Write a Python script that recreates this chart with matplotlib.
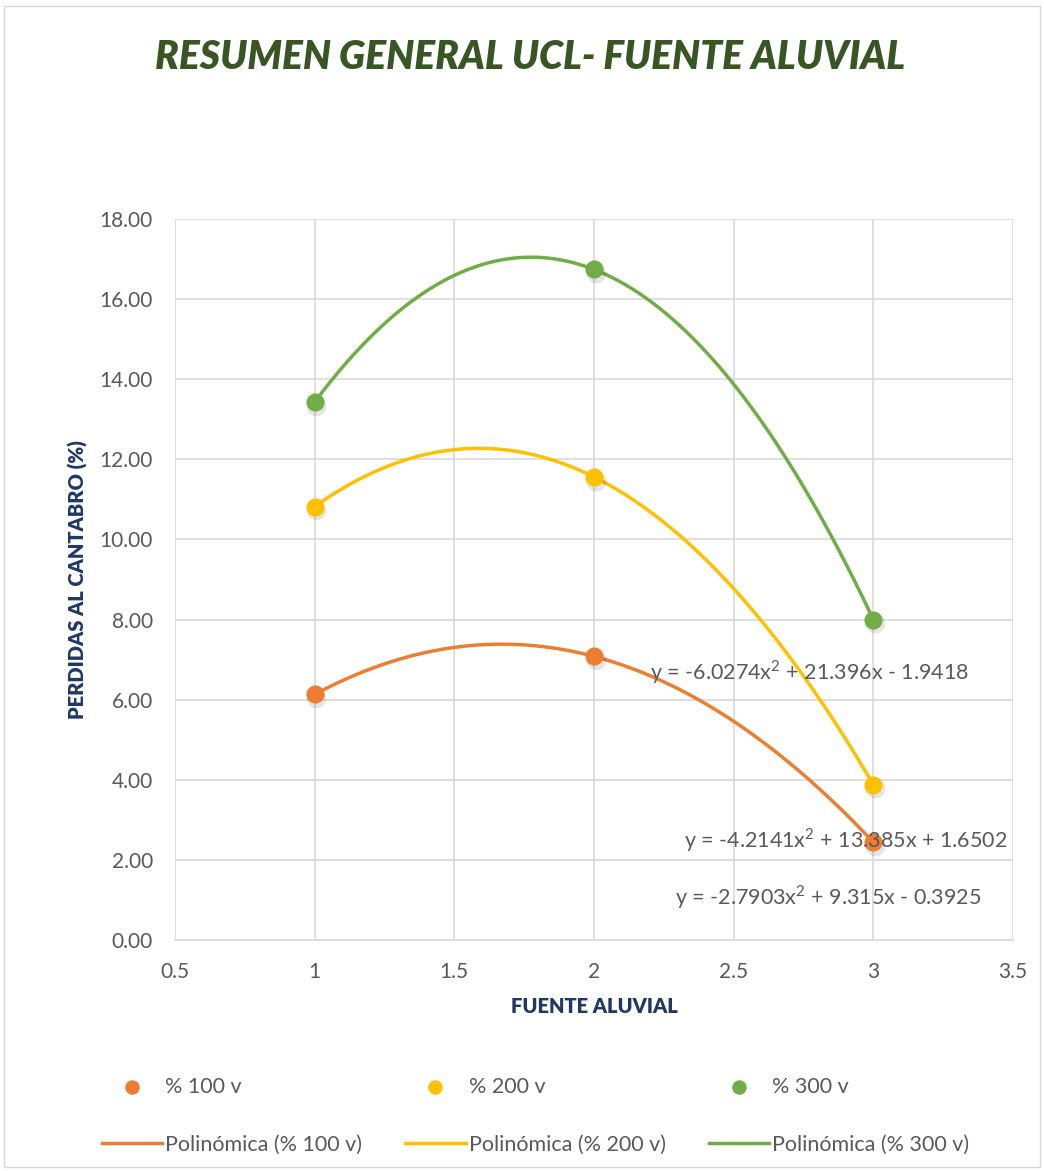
import matplotlib.pyplot as plt
import numpy as np

# Datos: pérdidas al cántabro por fuente aluvial
fuente = [1, 2, 3]
v100 = [6.13, 7.08, 2.44]
v200 = [10.82, 11.56, 3.88]
v300 = [13.43, 16.74, 8.00]

series = ['% 100 v', '% 200 v', '% 300 v']
colores = ['#ED7D31', '#FFC000', '#70AD47']

ecuaciones = ['y = -2.7903x$^2$ + 9.315x - 0.3925',
              'y = -4.2141x$^2$ + 13.385x + 1.6502',
              'y = -6.0274x$^2$ + 21.396x - 1.9418']
pos_ecuaciones = [(2.838, 1.07), (2.902, 2.50), (2.773, 6.69)]

plt.rcParams['font.family'] = ['Lato', 'DejaVu Sans']
plt.rcParams['mathtext.fontset'] = 'custom'
plt.rcParams['mathtext.rm'] = 'Lato'

fig = plt.figure(figsize=(10.44, 11.71), dpi=100)
ax = fig.add_axes([0.1676, 0.1973, 0.8027, 0.6157])

# borde exterior del gráfico
fig.patches.append(plt.Rectangle((0.004, 0.003), 0.992, 0.992, transform=fig.transFigure,
                                 fill=False, edgecolor='#D9D9D9', linewidth=1))

xi = np.linspace(1, 3, 200)
handles = []
for datos, nombre, c in zip([v100, v200, v300], series, colores):
    coef = np.polyfit(fuente, datos, 2)
    l, = ax.plot(xi, np.polyval(coef, xi), color=c, lw=2.5, zorder=3,
                 label='Polinómica (' + nombre + ')')
    # sombra ligera de los marcadores
    ax.scatter(np.array(fuente) + 0.006, np.array(datos) - 0.09, s=200, color='#000000',
               alpha=0.10, zorder=3.5, linewidths=0)
    p = ax.scatter(fuente, datos, s=170, color=c, zorder=4, linewidths=0, label=nombre)
    handles += [p, l]

for texto, (x, y) in zip(ecuaciones, pos_ecuaciones):
    ax.text(x, y, texto, ha='center', va='center', fontsize=15.5, color='#595959', zorder=5)

ax.set_xlim(0.5, 3.5)
ax.set_ylim(0, 18)
ax.set_xticks(np.arange(0.5, 3.51, 0.5))
ax.set_xticklabels(['0.5', '1', '1.5', '2', '2.5', '3', '3.5'])
ax.set_yticks(np.arange(0, 18.1, 2))
ax.set_yticklabels(['%.2f' % v for v in np.arange(0, 18.1, 2)])
ax.tick_params(length=0, labelsize=15, labelcolor='#595959')
ax.tick_params(axis='x', pad=16)
ax.tick_params(axis='y', pad=16)
ax.grid(True, color='#D9D9D9', lw=1.2)
ax.set_axisbelow(True)
for s in ['top', 'right', 'left']:
    ax.spines[s].set_visible(False)
ax.spines['bottom'].set_color('#D9D9D9')
ax.spines['bottom'].set_linewidth(1.2)

ax.set_xlabel('FUENTE ALUVIAL', fontsize=14.5, fontweight='heavy', color='#1F3864', labelpad=11)
ax.set_ylabel('PERDIDAS AL CANTABRO (%)', fontsize=14.5, fontweight='heavy', color='#1F3864',
              labelpad=8)

fig.text(0.508, 0.951, 'RESUMEN GENERAL UCL- FUENTE ALUVIAL', ha='center', va='center',
         fontsize=28, fontweight='heavy', style='italic', color='#375623')

fig.legend(handles=handles, loc='center', bbox_to_anchor=(0.513, 0.047), ncol=3,
           frameon=False, fontsize=15.5, labelcolor='#595959', columnspacing=2.0,
           handlelength=2.8, handletextpad=0.15, markerscale=0.8, labelspacing=1.75)

plt.savefig('out.png', dpi=100)
